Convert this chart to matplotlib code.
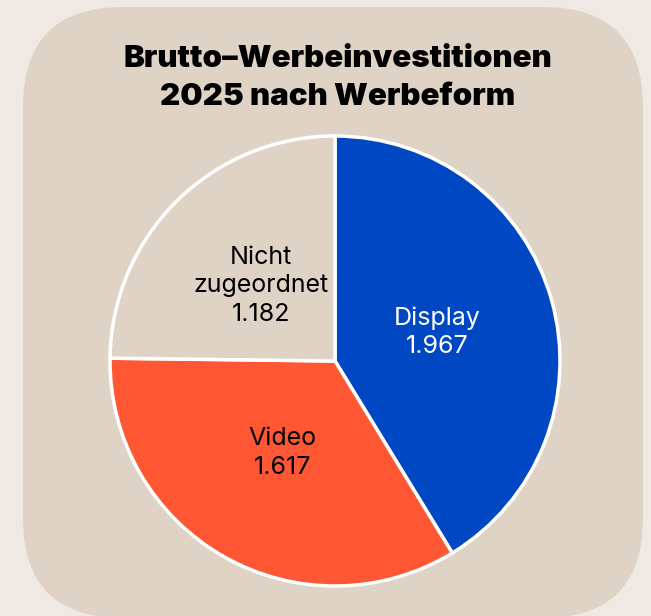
import matplotlib.pyplot as plt
from matplotlib.patches import FancyBboxPatch

labels = ["Display", "Video", "Nicht\nzugeordnet"]
values = [1967, 1617, 1182]
value_labels = ["1.967", "1.617", "1.182"]
colors = ["#0047c3", "#ff5733", "#dfd3c6"]
text_colors = ["white", "black", "black"]

fig = plt.figure(figsize=(6.51, 6.16), dpi=100)
fig.patch.set_facecolor("#f0e9e3")
ax = fig.add_axes([0, 0, 1, 1])
ax.set_aspect("equal")
ax.axis("off")

# rounded card behind the chart
card = FancyBboxPatch((23 + 100, -2 + 100), 620 - 200, 611 - 200,
                      boxstyle="round,pad=100", fc="#dfd3c6", ec="none")
ax.add_patch(card)

wedges, texts = ax.pie(values, colors=colors, startangle=90, counterclock=False,
                       center=(335, 255), radius=225,
                       labels=[f"{l}\n{v}" for l, v in zip(labels, value_labels)],
                       labeldistance=0.47,
                       wedgeprops=dict(edgecolor="white", linewidth=2.5),
                       textprops=dict(fontsize=18, family="Inter", ha="center",
                                      va="center", linespacing=1.3))
for t, c in zip(texts, text_colors):
    t.set_color(c)
    t.set_horizontalalignment("center")

ax.set_xlim(0, 651)
ax.set_ylim(0, 616)

ax.text(338, 538, "Brutto–Werbeinvestitionen\n2025 nach Werbeform",
        ha="center", va="center", fontsize=22.5, fontweight="black",
        family="Inter", linespacing=1.42)

fig.savefig("out.png", dpi=100, facecolor=fig.get_facecolor())
